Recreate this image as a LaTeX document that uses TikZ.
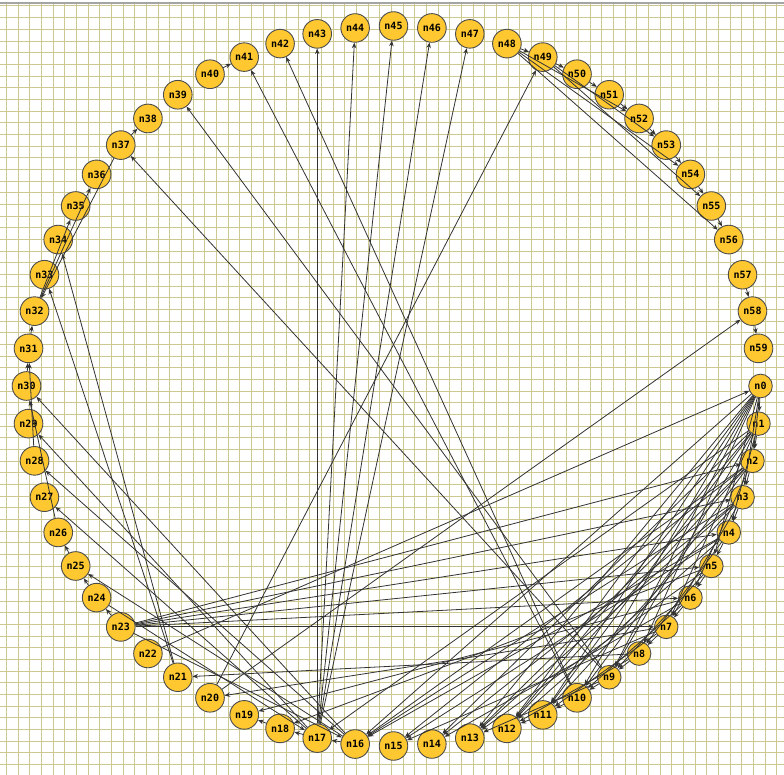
\documentclass[tikz,border=0pt]{standalone}
\usepackage{fontspec}
\newfontfamily\vertfont{DejaVu Sans Mono}
\usetikzlibrary{arrows.meta}
\definecolor{gridolive}{RGB}{204,200,144}
\definecolor{vertfill}{RGB}{255,200,48}
\definecolor{framegray}{RGB}{165,165,165}
\tikzset{
  vert/.style={
    circle, draw=black!70, fill=vertfill, line width=0.9pt,
    inner sep=3.4pt, font=\vertfont\bfseries\fontsize{10}{10}\selectfont
  },
  gridline/.style={gridolive, line width=1pt},
  edge/.style={-{Stealth[length=5.5pt,width=4.5pt]}, black!80, line width=0.8pt}
}
\begin{document}
\begin{tikzpicture}[x=1pt, y=-1pt]
  \useasboundingbox (0,0) rectangle (784,775);
  \fill[white] (0,0) rectangle (784,775);
  % background grid
  \foreach \k in {0,...,66} {
    \draw[gridline] ({6.5+11.67*\k},3) -- ({6.5+11.67*\k},775);
    \draw[gridline] (0,{6+11.67*\k}) -- (784,{6+11.67*\k});
  }
  \draw[framegray, line width=1.5pt] (0,3) -- (784,3);

  % vertices on the circle
  \foreach \i in {0,...,59}
    \node[vert] (n\i) at ({393.5+367*cos(6*\i)},{386+360*sin(6*\i)}) {n\i};

  % right side fan
  \foreach \t in {1,2,3,5,8,9,10,11,12,13,16} \draw[edge] (n0) -- (n\t);
  \foreach \t in {2,4,7,9,11,12,14,17} \draw[edge] (n1) -- (n\t);
  \foreach \t in {3,6,10,12,13,15,16} \draw[edge] (n2) -- (n\t);
  \foreach \t in {4,7,11,13,14,16} \draw[edge] (n3) -- (n\t);
  \foreach \t in {5,8,12,15,16} \draw[edge] (n4) -- (n\t);
  \foreach \t in {6,9,13,18} \draw[edge] (n5) -- (n\t);
  \foreach \t in {7,10,14,19} \draw[edge] (n6) -- (n\t);
  \foreach \t in {8,11,15,20} \draw[edge] (n7) -- (n\t);
  \foreach \t in {9,12,21} \draw[edge] (n8) -- (n\t);
  \foreach \t in {10,13,37,39} \draw[edge] (n9) -- (n\t);
  \foreach \t in {11,41,42} \draw[edge] (n10) -- (n\t);
  \draw[edge] (n11) -- (n12);

  % bottom and left
  \foreach \t in {17,25,28,30} \draw[edge] (n16) -- (n\t);
  \foreach \t in {18,27,29,43,44,45,46,47} \draw[edge] (n17) -- (n\t);
  \draw[edge] (n18) -- (n19);
  \draw[edge] (n20) -- (n49);
  \draw[edge] (n20) -- (n58);
  \draw[edge] (n21) -- (n33);
  \draw[edge] (n21) -- (n34);
  \draw[edge] (n22) -- (n0);
  \foreach \t in {2,3,4,5,6,7,16,24} \draw[edge] (n23) -- (n\t);
  \draw[edge] (n24) -- (n17);
  \draw[edge] (n24) -- (n25);
  \draw[edge] (n25) -- (n26);
  \draw[edge] (n26) -- (n30);
  \draw[edge] (n28) -- (n31);
  \draw[edge] (n30) -- (n31);
  \draw[edge] (n31) -- (n32);
  \draw[edge] (n32) -- (n35);
  \draw[edge] (n32) -- (n36);
  \draw[edge] (n37) -- (n32);
  \draw[edge] (n37) -- (n38);
  \draw[edge] (n40) -- (n41);

  % top right
  \foreach \t in {49,52,54,56} \draw[edge] (n48) -- (n\t);
  \foreach \t in {50,53,55} \draw[edge] (n49) -- (n\t);
  \draw[edge] (n50) -- (n51);
  \draw[edge] (n51) -- (n52);
  \draw[edge] (n52) -- (n53);
  \draw[edge] (n53) -- (n54);
  \draw[edge] (n54) -- (n55);
  \draw[edge] (n55) -- (n56);
  \draw[edge] (n57) -- (n58);
  \draw[edge] (n58) -- (n59);
\end{tikzpicture}
\end{document}
